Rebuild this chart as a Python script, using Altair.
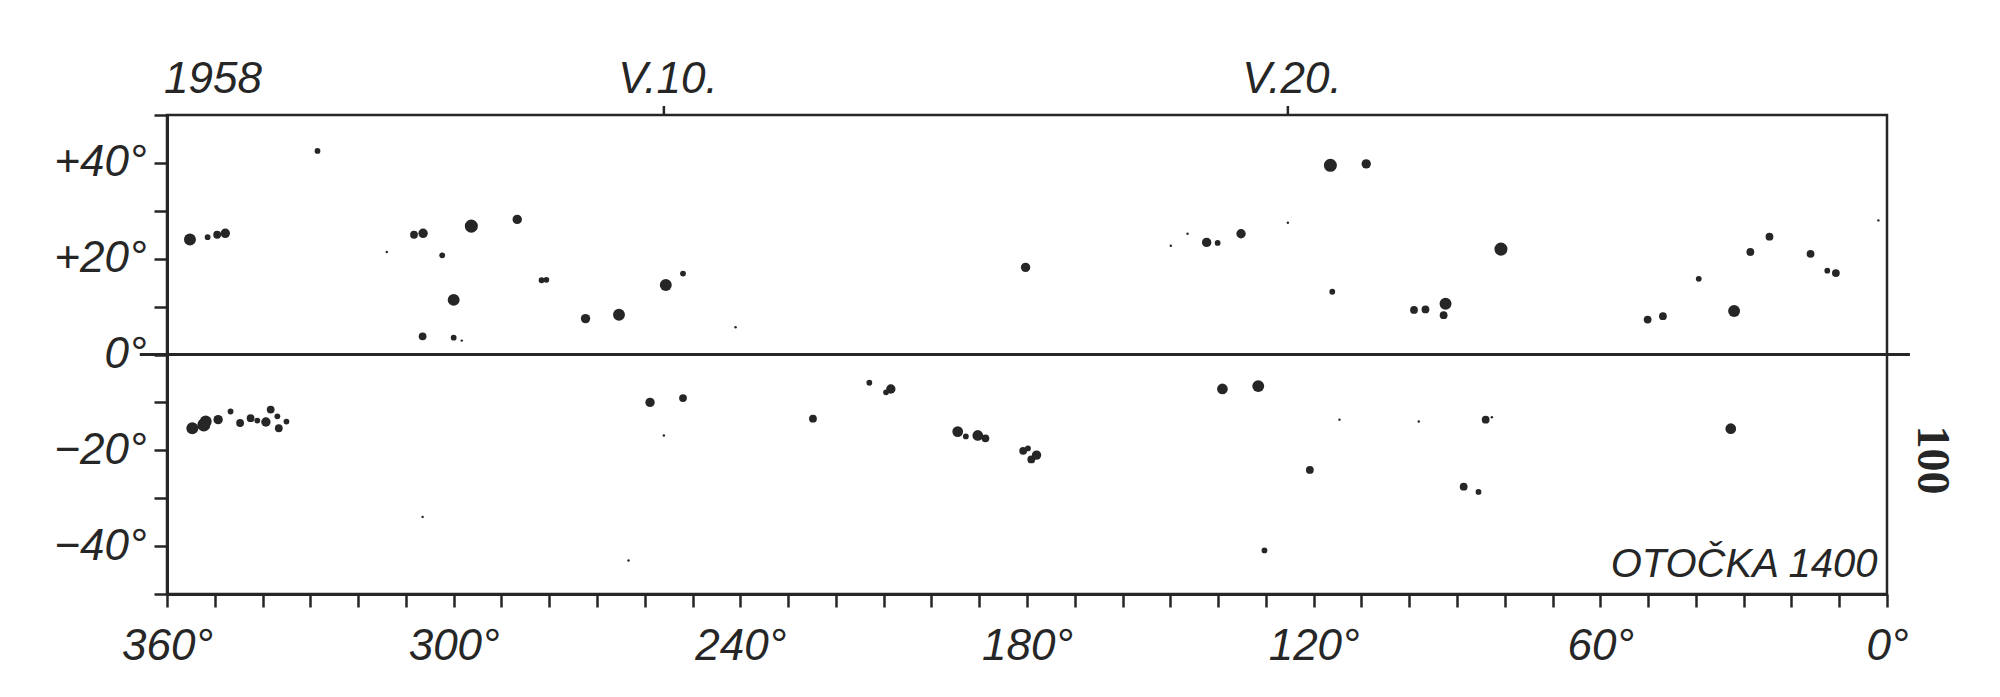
import altair as alt
import pandas as pd

# ---- data (heliographic longitude / latitude of spots) ----
lon = [355.2, 351.5, 349.5, 347.8, 328.5, 314.0, 308.3, 306.4, 302.4, 296.3,
       286.7, 281.6, 280.6, 300.0, 306.5, 300.0, 298.3, 272.4, 265.4, 255.6,
       252.0, 241.0, 180.3, 149.9, 146.4, 142.4, 140.1, 135.2, 125.4, 116.5,
       109.0, 116.1, 99.0, 96.6, 92.4, 92.8, 80.8, 50.1, 46.9, 32.0,
       39.4, 28.6, 24.6, 16.0, 12.5, 10.7, 1.8,
       354.7, 352.3, 351.9, 349.3, 346.7, 344.7, 342.5, 341.1, 339.3, 338.3,
       336.9, 336.6, 335.0, 306.5, 263.4, 258.9, 252.0, 256.0, 224.8, 213.0,
       208.5, 209.5, 194.5, 192.8, 190.3, 188.7, 180.8, 179.8, 179.1, 178.0,
       139.1, 131.6, 120.8, 114.6, 98.0, 84.0, 82.7, 88.6, 85.5, 130.3, 32.7]
lat = [24.0, 24.5, 25.0, 25.3, 42.5, 21.4, 25.0, 25.3, 20.7, 26.8,
       28.2, 15.5, 15.6, 11.4, 3.8, 3.5, 2.9, 7.5, 8.3, 14.5,
       16.9, 5.7, 18.2, 22.7, 25.2, 23.4, 23.3, 25.2, 27.5, 39.5,
       39.8, 13.1, 9.3, 9.4, 10.6, 8.2, 22.0, 7.3, 8.0, 9.1,
       15.8, 21.4, 24.6, 21.0, 17.5, 17.0, 28.0,
       -15.4, -14.7, -14.0, -13.6, -11.9, -14.3, -13.3, -13.8, -14.1, -11.5,
       -12.9, -15.4, -14.0, -33.9, -43.0, -10.0, -9.1, -16.9, -13.4, -5.9,
       -7.2, -7.9, -16.1, -17.1, -16.9, -17.5, -20.1, -19.6, -21.9, -21.0,
       -7.2, -6.6, -24.1, -13.6, -14.0, -13.6, -13.1, -27.6, -28.7, -40.9, -15.5]
# spot size class (1 = faint speck ... 7 = large spot)
spot = [6, 2, 3, 4, 2, 1, 3, 4, 2, 7,
        4, 2, 2, 6, 3, 2, 1, 4, 6, 6,
        2, 1, 4, 1, 1, 4, 2, 4, 1, 7,
        4, 2, 3, 3, 6, 3, 7, 3, 3, 6,
        2, 3, 3, 3, 2, 3, 1,
        6, 7, 6, 4, 2, 3, 3, 2, 4, 3,
        2, 3, 2, 1, 1, 4, 3, 1, 3, 2,
        4, 2, 5, 2, 5, 3, 3, 2, 3, 4,
        5, 6, 3, 1, 1, 3, 1, 3, 2, 2, 5]

x_ticks = list(range(0, 361, 10))
y_ticks = list(range(-50, 51, 10))

date_lon = [256.0, 125.4]
date_lab = ["V.10.", "V.20."]
year_lab = "1958"
rotation_lab = "OTOČKA 1400"
page_lab = "100"

INK = "#262626"
FONT = "Liberation Sans"
W, H = 1720, 479

df = pd.DataFrame({"lon": lon, "lat": lat, "spot": spot})
dates = pd.DataFrame({"lon": date_lon, "lab": date_lab})

xs = alt.Scale(domain=[0, 360], reverse=True, nice=False, zero=False)
ys = alt.Scale(domain=[-50, 50], nice=False, zero=False)

xaxis = alt.Axis(values=x_ticks,
                 labelExpr="datum.value % 60 == 0 ? datum.value + '°' : ''",
                 tickSize=13, tickWidth=2.5, tickColor=INK,
                 domainColor=INK, domainWidth=3,
                 labelFont=FONT, labelFontSize=44, labelFontStyle="italic",
                 labelColor=INK, labelPadding=17, labelFlush=False,
                 labelOverlap=False, title=None, grid=False)
yaxis = alt.Axis(values=y_ticks,
                 labelExpr="datum.value == 0 ? '0°' : ((abs(datum.value) == 20 || abs(datum.value) == 40) ? ((datum.value > 0 ? '+' : '−') + abs(datum.value) + '°') : '')",
                 tickSize=13, tickWidth=2.5, tickColor=INK,
                 domainColor=INK, domainWidth=3,
                 labelFont=FONT, labelFontSize=44, labelFontStyle="italic",
                 labelColor=INK, labelPadding=8, labelFlush=False,
                 labelOverlap=False, title=None, grid=False)

base = alt.Chart(df)

spots = base.mark_circle(color=INK, opacity=1).encode(
    x=alt.X("lon:Q", scale=xs, axis=xaxis),
    y=alt.Y("lat:Q", scale=ys, axis=yaxis),
    size=alt.Size("spot:Q", scale=alt.Scale(domain=[1, 7], range=[6, 170]), legend=None),
)

zero = alt.Chart(pd.DataFrame({"a": [365.7], "b": [-4.8], "lat": [0]})).mark_rule(
    color=INK, strokeWidth=3).encode(
    x=alt.X("a:Q", scale=xs), x2="b:Q", y=alt.Y("lat:Q", scale=ys))

top_ticks = alt.Chart(dates).mark_rule(color=INK, strokeWidth=2.5).encode(
    x=alt.X("lon:Q", scale=xs), y=alt.value(0), y2=alt.value(-9))

top_labels = alt.Chart(dates).mark_text(
    font=FONT, fontSize=44, fontStyle="italic", color=INK,
    baseline="alphabetic", align="center", dx=4).encode(
    x=alt.X("lon:Q", scale=xs), y=alt.value(-22), text="lab:N")

year = alt.Chart(pd.DataFrame({"lon": [360], "lab": [year_lab]})).mark_text(
    font=FONT, fontSize=44, fontStyle="italic", color=INK,
    baseline="alphabetic", align="left", dx=-3).encode(
    x=alt.X("lon:Q", scale=xs), y=alt.value(-22), text="lab:N")

rot = alt.Chart(pd.DataFrame({"lon": [2.0], "lat": [-46.5], "lab": [rotation_lab]})).mark_text(
    font=FONT, fontSize=40, fontStyle="italic", color=INK,
    baseline="alphabetic", align="right").encode(
    x=alt.X("lon:Q", scale=xs), y=alt.Y("lat:Q", scale=ys), text="lab:N")

page = alt.Chart(pd.DataFrame({"lon": [-9.5], "lat": [-22.0], "lab": [page_lab]})).mark_text(
    font="Liberation Serif", fontSize=46, fontWeight="bold", color=INK,
    baseline="middle", align="center", angle=90).encode(
    x=alt.X("lon:Q", scale=xs), y=alt.Y("lat:Q", scale=ys), text="lab:N")

chart = alt.layer(zero, spots, top_ticks, top_labels, year, rot, page).properties(
    width=W, height=H,
    autosize=alt.AutoSizeParams(type="none"),
    padding={"left": 159, "top": 107, "right": 90, "bottom": 80},
    background="white",
).configure_view(stroke=INK, strokeWidth=2.5)

chart.save("out.html", embed_options={"renderer": "svg", "actions": False})
